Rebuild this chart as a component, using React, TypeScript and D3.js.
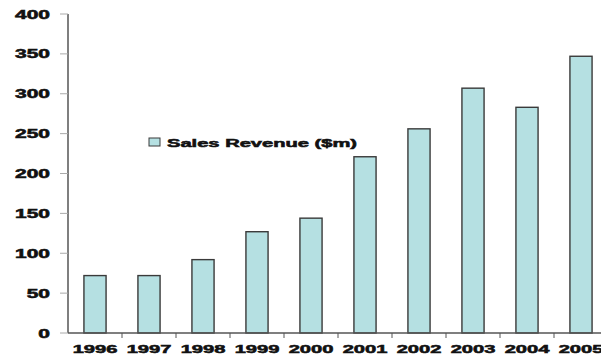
import React from "react";
import * as d3 from "d3";

const years = ["1996", "1997", "1998", "1999", "2000", "2001", "2002", "2003", "2004", "2005"];
const revenue = [72, 72, 92, 127, 144, 221, 256, 307, 283, 347];
const yTicks = [0, 50, 100, 150, 200, 250, 300, 350, 400];
const seriesName = "Sales Revenue ($m)";

const W = 601;
const H = 358;
const FILL = "#b5e0e2";
const STROKE = "#3a3a3a";
const SX = 1.75;
const FONT = "'Liberation Sans', Arial, sans-serif";

export default function App() {
  const x = d3.scaleBand<string>().domain(years).range([68, 608]).paddingInner(0.59).paddingOuter(0.295);
  const step = x.step();
  const y = d3.scaleLinear().domain([0, 400]).range([333, 14]);

  const label = (tx: number, ty: number, text: string, anchor: string, size: number, key?: string) => (
    <g key={key} transform={`translate(${tx},${ty}) scale(${SX},1)`}>
      <text
        textAnchor={anchor}
        fontFamily={FONT}
        fontWeight="bold"
        fontSize={size}
        fill="#111"
        stroke="#111"
        strokeWidth={0.55}
      >
        {text}
      </text>
    </g>
  );

  return (
    <svg
      width={W}
      height={H}
      style={{ position: "absolute", left: 0, top: 0, background: "#fff" }}
    >
      {/* bars */}
      {years.map((yr, i) => (
        <rect
          key={yr}
          x={x(yr)!}
          y={y(revenue[i])}
          width={x.bandwidth()}
          height={y(0) - y(revenue[i])}
          fill={FILL}
          stroke={STROKE}
          strokeWidth={1.4}
        />
      ))}

      {/* y axis */}
      <line x1={68} x2={68} y1={y(400)} y2={y(0)} stroke="#555" strokeWidth={1.5} />
      {yTicks.map((t) => (
        <g key={t}>
          <line x1={60} x2={68} y1={y(t)} y2={y(t)} stroke="#aaa" strokeWidth={1} />
          {label(50, y(t) + 4.5, String(t), "end", 12)}
        </g>
      ))}

      {/* x axis */}
      <line x1={68} x2={W} y1={y(0)} y2={y(0)} stroke="#555" strokeWidth={1.5} />
      {years.map((yr, i) => {
        const bx = 68 + step * (i + 1);
        return <line key={"t" + yr} x1={bx} x2={bx} y1={y(0)} y2={y(0) + 5} stroke="#555" strokeWidth={1} />;
      })}
      {years.map((yr) => label(x(yr)! + x.bandwidth() / 2, 353, yr, "middle", 11.5, "l" + yr))}

      {/* legend */}
      <rect x={149} y={138} width={11} height={8} fill={FILL} stroke={STROKE} strokeWidth={1} />
      {label(167, 146.5, seriesName, "start", 11.5)}
    </svg>
  );
}
